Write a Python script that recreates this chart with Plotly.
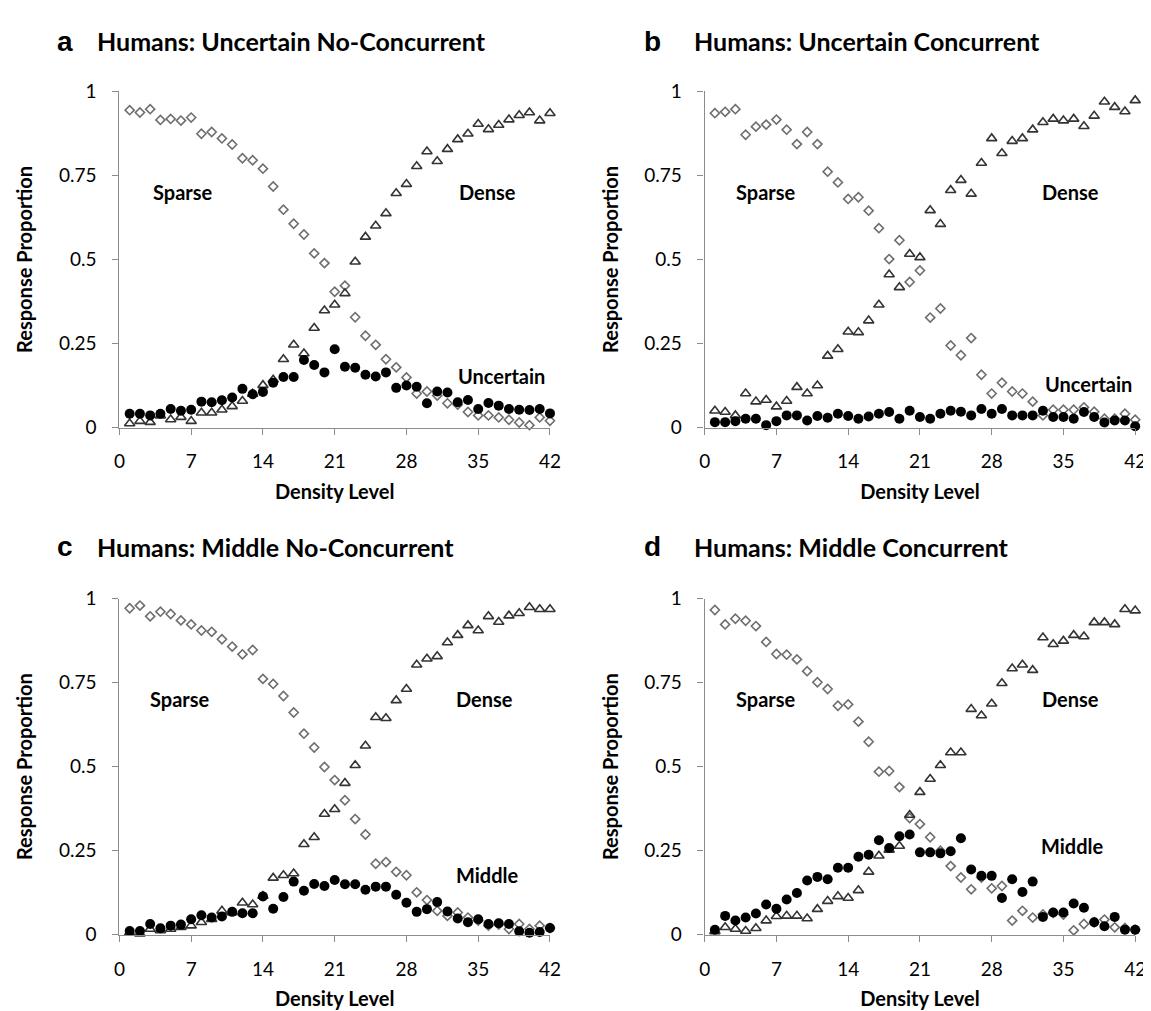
import plotly.graph_objects as go

levels = list(range(1, 43))

# Panel a: Humans: Uncertain No-Concurrent
a_sparse = [0.944, 0.937, 0.947, 0.915, 0.918, 0.913, 0.922, 0.874, 0.879, 0.860,
            0.842, 0.801, 0.795, 0.770, 0.717, 0.648, 0.606, 0.574, 0.518, 0.489,
            0.404, 0.422, 0.328, 0.273, 0.246, 0.203, 0.179, 0.149, 0.101, 0.107,
            0.095, 0.072, 0.068, 0.046, 0.036, 0.036, 0.030, 0.023, 0.015, 0.007,
            0.030, 0.020]
a_dense = [0.012, 0.019, 0.016, 0.035, 0.024, 0.031, 0.019, 0.044, 0.044, 0.053,
           0.063, 0.079, 0.100, 0.126, 0.142, 0.203, 0.246, 0.220, 0.296, 0.348,
           0.365, 0.399, 0.493, 0.567, 0.600, 0.637, 0.697, 0.724, 0.777, 0.821,
           0.792, 0.828, 0.857, 0.874, 0.903, 0.887, 0.900, 0.916, 0.929, 0.937,
           0.913, 0.935]
a_unc = [0.041, 0.041, 0.036, 0.041, 0.055, 0.050, 0.053, 0.077, 0.075, 0.081,
         0.089, 0.115, 0.099, 0.106, 0.133, 0.150, 0.150, 0.201, 0.186, 0.164,
         0.233, 0.181, 0.178, 0.157, 0.152, 0.164, 0.118, 0.125, 0.121, 0.072,
         0.107, 0.104, 0.075, 0.082, 0.055, 0.073, 0.065, 0.055, 0.053, 0.052,
         0.055, 0.042]

# Panel b: Humans: Uncertain Concurrent
b_sparse = [0.935, 0.939, 0.947, 0.871, 0.895, 0.901, 0.916, 0.886, 0.843, 0.879,
            0.843, 0.761, 0.729, 0.680, 0.685, 0.645, 0.593, 0.501, 0.557, 0.433,
            0.467, 0.327, 0.354, 0.244, 0.215, 0.266, 0.157, 0.101, 0.133, 0.107,
            0.101, 0.077, 0.036, 0.053, 0.053, 0.053, 0.060, 0.047, 0.026, 0.026,
            0.041, 0.023]
b_dense = [0.050, 0.046, 0.036, 0.101, 0.077, 0.082, 0.062, 0.079, 0.120, 0.101,
           0.125, 0.213, 0.233, 0.285, 0.283, 0.318, 0.365, 0.455, 0.417, 0.516,
           0.506, 0.646, 0.605, 0.706, 0.736, 0.695, 0.787, 0.860, 0.816, 0.852,
           0.860, 0.886, 0.908, 0.918, 0.913, 0.918, 0.896, 0.927, 0.969, 0.953,
           0.940, 0.973]
b_unc = [0.016, 0.016, 0.019, 0.026, 0.026, 0.007, 0.019, 0.036, 0.036, 0.021,
         0.034, 0.029, 0.041, 0.034, 0.026, 0.033, 0.041, 0.046, 0.026, 0.050,
         0.031, 0.026, 0.041, 0.050, 0.047, 0.036, 0.055, 0.041, 0.055, 0.036,
         0.036, 0.036, 0.050, 0.031, 0.031, 0.026, 0.046, 0.031, 0.015, 0.021,
         0.021, 0.004]

# Panel c: Humans: Middle No-Concurrent
c_sparse = [0.971, 0.979, 0.947, 0.961, 0.954, 0.935, 0.923, 0.905, 0.901, 0.879,
            0.857, 0.834, 0.847, 0.761, 0.746, 0.710, 0.661, 0.598, 0.557, 0.499,
            0.460, 0.400, 0.344, 0.298, 0.211, 0.216, 0.187, 0.177, 0.126, 0.103,
            0.071, 0.056, 0.066, 0.051, 0.042, 0.027, 0.030, 0.017, 0.032, 0.017,
            0.027, 0.020]
c_dense = [0.006, 0.003, 0.017, 0.013, 0.017, 0.022, 0.027, 0.037, 0.046, 0.071,
           0.066, 0.095, 0.090, 0.115, 0.169, 0.177, 0.182, 0.269, 0.290, 0.359,
           0.373, 0.451, 0.504, 0.562, 0.647, 0.644, 0.697, 0.731, 0.803, 0.821,
           0.828, 0.869, 0.891, 0.920, 0.905, 0.947, 0.930, 0.949, 0.956, 0.974,
           0.968, 0.968]
c_mid = [0.011, 0.011, 0.032, 0.019, 0.027, 0.030, 0.046, 0.058, 0.051, 0.054,
         0.068, 0.064, 0.064, 0.114, 0.077, 0.112, 0.158, 0.131, 0.151, 0.145,
         0.163, 0.150, 0.150, 0.134, 0.143, 0.143, 0.119, 0.095, 0.068, 0.076,
         0.097, 0.069, 0.048, 0.037, 0.046, 0.032, 0.034, 0.032, 0.010, 0.006,
         0.008, 0.020]

# Panel d: Humans: Middle Concurrent
d_sparse = [0.966, 0.923, 0.940, 0.934, 0.918, 0.871, 0.835, 0.833, 0.819, 0.784,
            0.751, 0.731, 0.681, 0.685, 0.634, 0.574, 0.485, 0.487, 0.439, 0.347,
            0.329, 0.290, 0.250, 0.204, 0.170, 0.135, 0.170, 0.138, 0.145, 0.042,
            0.071, 0.051, 0.060, 0.065, 0.060, 0.013, 0.032, 0.037, 0.045, 0.022,
            0.020, 0.015]
d_dense = [0.010, 0.022, 0.017, 0.011, 0.019, 0.042, 0.055, 0.056, 0.056, 0.048,
           0.076, 0.100, 0.114, 0.109, 0.132, 0.187, 0.235, 0.252, 0.264, 0.356,
           0.424, 0.463, 0.504, 0.542, 0.542, 0.671, 0.652, 0.687, 0.748, 0.792,
           0.803, 0.787, 0.884, 0.864, 0.874, 0.891, 0.887, 0.929, 0.929, 0.923,
           0.968, 0.964]
d_mid = [0.015, 0.056, 0.042, 0.051, 0.063, 0.090, 0.077, 0.105, 0.124, 0.161,
         0.172, 0.165, 0.199, 0.199, 0.232, 0.238, 0.281, 0.258, 0.293, 0.298,
         0.245, 0.245, 0.242, 0.248, 0.287, 0.194, 0.175, 0.175, 0.109, 0.165,
         0.127, 0.158, 0.053, 0.066, 0.066, 0.093, 0.080, 0.037, 0.025, 0.053,
         0.015, 0.015]

panels = [
    ("a", "Humans: Uncertain No-Concurrent", a_sparse, a_dense, a_unc, "Uncertain"),
    ("b", "Humans: Uncertain Concurrent", b_sparse, b_dense, b_unc, "Uncertain"),
    ("c", "Humans: Middle No-Concurrent", c_sparse, c_dense, c_mid, "Middle"),
    ("d", "Humans: Middle Concurrent", d_sparse, d_dense, d_mid, "Middle"),
]

x_ticks = [0, 7, 14, 21, 28, 35, 42]
y_ticks = [0, 0.25, 0.5, 0.75, 1]
y_ticktext = ["0", "0.25", "0.5", "0.75", "1"]

# label positions (x level, y value)
third_pos = {"a": (37.3, 0.152), "b": (37.4, 0.13), "c": (35.9, 0.177), "d": (35.9, 0.265)}
sparse_x = {"a": 6.25, "b": 6.0, "c": 5.9, "d": 6.0}
dense_x = {"a": 35.9, "b": 35.7, "c": 35.6, "d": 35.7}

W, H = 1151, 1011
# plot areas in pixels: (x0, x1, ytop, ybottom)
areas = [(107, 544, 73, 417), (701, 1138, 73, 417),
         (107, 544, 592, 936), (701, 1138, 592, 936)]
title_pos = [(42, 82, 22), (637, 688, 22), (42, 82, 539), (637, 688, 539)]

FONT = "Lato"
AXC = "#8c8c8c"
DIAMOND_C = "#6e6e6e"
TRI_C = "#333333"

fig = go.Figure()
layout = dict(width=W, height=H, margin=dict(l=0, r=0, t=0, b=0),
              paper_bgcolor="white", plot_bgcolor="white", showlegend=False)
annotations = []

for i, (letter, title, sp, de, th, thname) in enumerate(panels):
    k = "" if i == 0 else str(i + 1)
    x0, x1, yt, yb = areas[i]
    xa = dict(domain=[x0 / W, x1 / W], range=[0, 42], anchor="y" + k,
              tickmode="array", tickvals=x_ticks, showgrid=False, zeroline=False,
              showline=True, linecolor=AXC, linewidth=1.3, ticks="outside",
              ticklen=6, tickcolor=AXC, tickwidth=1.3, ticklabelstandoff=11,
              tickfont=dict(family=FONT, size=19, color="black"),
              title=dict(text="<b>Density Level</b>", standoff=13,
                         font=dict(family=FONT, size=20, color="black")))
    ya = dict(domain=[1 - yb / H, 1 - yt / H], range=[0, 1], anchor="x" + k,
              tickmode="array", tickvals=y_ticks, ticktext=y_ticktext,
              showgrid=False, zeroline=False, showline=True, linecolor=AXC,
              linewidth=1.3, ticks="outside", ticklen=6, tickcolor=AXC,
              tickwidth=1.3, ticklabelstandoff=12,
              tickfont=dict(family=FONT, size=19, color="black"),
              title=dict(text="<b>Response Proportion</b>", standoff=20,
                         font=dict(family=FONT, size=20, color="black")))
    layout["xaxis" + k] = xa
    layout["yaxis" + k] = ya

    fig.add_trace(go.Scatter(x=levels, y=sp, mode="markers", xaxis="x" + k, yaxis="y" + k,
                             cliponaxis=False,
                             marker=dict(symbol="diamond-open", size=7, color=DIAMOND_C,
                                         line=dict(color=DIAMOND_C, width=1.6))))
    fig.add_trace(go.Scatter(x=levels, y=de, mode="markers", xaxis="x" + k, yaxis="y" + k,
                             cliponaxis=False,
                             marker=dict(symbol="triangle-up-open", size=9, color=TRI_C,
                                         line=dict(color=TRI_C, width=1.6))))
    fig.add_trace(go.Scatter(x=levels, y=th, mode="markers", xaxis="x" + k, yaxis="y" + k,
                             cliponaxis=False,
                             marker=dict(symbol="circle", size=10, color="black",
                                         line=dict(width=0))))

    lx, tx, ty = title_pos[i]
    annotations.append(dict(text="<b>%s</b>" % letter, xref="paper", yref="paper",
                            x=lx / W, y=1 - ty / H, xanchor="left", yanchor="middle",
                            showarrow=False,
                            font=dict(family="Liberation Sans", size=28, color="black")))
    annotations.append(dict(text="<b>%s</b>" % title, xref="paper", yref="paper",
                            x=tx / W, y=1 - ty / H, xanchor="left", yanchor="middle",
                            showarrow=False,
                            font=dict(family=FONT, size=25, color="black")))
    lab_font = dict(family=FONT, size=20, color="black")
    annotations.append(dict(text="<b>Sparse</b>", xref="x" + k, yref="y" + k,
                            x=sparse_x[letter], y=0.70, showarrow=False, font=lab_font))
    annotations.append(dict(text="<b>Dense</b>", xref="x" + k, yref="y" + k,
                            x=dense_x[letter], y=0.70, showarrow=False, font=lab_font))
    px, py = third_pos[letter]
    annotations.append(dict(text="<b>%s</b>" % thname, xref="x" + k, yref="y" + k,
                            x=px, y=py, showarrow=False, font=lab_font))

layout["annotations"] = annotations
fig.update_layout(**layout)
fig.write_html("out.html")
